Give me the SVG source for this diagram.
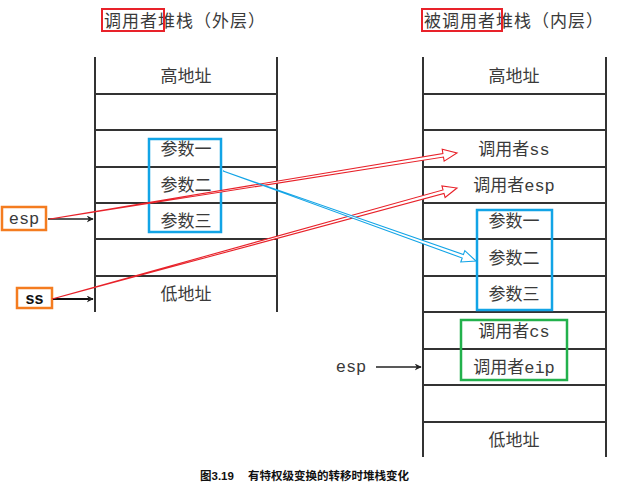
<svg xmlns="http://www.w3.org/2000/svg" width="628" height="492" viewBox="0 0 628 492">
<defs>
<style>
.ln{stroke:#333;stroke-width:2;fill:none}
.t{font-family:"Noto Sans CJK SC","Liberation Serif",serif;font-size:17px;fill:#3a3a3a;text-anchor:middle}
.ti{font-family:"Noto Sans CJK SC","Liberation Serif",serif;font-size:17px;fill:#3a3a3a;letter-spacing:1px}
.mono{font-family:"Liberation Mono","DejaVu Sans Mono",monospace}
.red{stroke:#e8222a;stroke-width:2;fill:none}
.blue{stroke:#12a4e6;stroke-width:2.5;fill:none}
.green{stroke:#22b14c;stroke-width:2.5;fill:none}
.org{stroke:#f47c20;stroke-width:2.5;fill:#fff}
.ptr{stroke:#222;stroke-width:1.5;fill:none}
.cap{font-family:"Liberation Sans","Noto Sans CJK SC",sans-serif;font-size:11.5px;font-weight:bold;fill:#111}
</style>
<marker id="ah" viewBox="0 0 10 10" refX="9" refY="5" markerWidth="7" markerHeight="7" markerUnits="userSpaceOnUse" orient="auto">
<path d="M0,0 L10,5 L0,10 L3,5 z" fill="#222"/>
</marker>
</defs>

<g id="title-left">
<text class="ti" x="104" y="27">调用者堆栈（外层）</text>
<rect class="red" x="102" y="9" width="62" height="22"/>
</g>
<g id="title-right">
<text class="ti" x="424" y="27">被调用者堆栈（内层）</text>
<rect class="red" x="422" y="9" width="80" height="22"/>
</g>

<g id="stack-left">
<line class="ln" x1="95" y1="57" x2="95" y2="312"/>
<line class="ln" x1="277" y1="57" x2="277" y2="312"/>
<line class="ln" x1="95" y1="94" x2="277" y2="94"/>
<line class="ln" x1="95" y1="130" x2="277" y2="130"/>
<line class="ln" x1="95" y1="167" x2="277" y2="167"/>
<line class="ln" x1="95" y1="203" x2="277" y2="203"/>
<line class="ln" x1="95" y1="239" x2="277" y2="239"/>
<line class="ln" x1="95" y1="276" x2="277" y2="276"/>
<text class="t" x="186" y="82">高地址</text>
<text class="t" x="186" y="155">参数一</text>
<text class="t" x="186" y="191">参数二</text>
<text class="t" x="186" y="227">参数三</text>
<text class="t" x="186" y="300">低地址</text>
<rect class="blue" x="149" y="139" width="72" height="93"/>
</g>

<g id="stack-right">
<line class="ln" x1="423" y1="57" x2="423" y2="457"/>
<line class="ln" x1="606" y1="57" x2="606" y2="457"/>
<line class="ln" x1="423" y1="94" x2="606" y2="94"/>
<line class="ln" x1="423" y1="130" x2="606" y2="130"/>
<line class="ln" x1="423" y1="167" x2="606" y2="167"/>
<line class="ln" x1="423" y1="203" x2="606" y2="203"/>
<line class="ln" x1="423" y1="239" x2="606" y2="239"/>
<line class="ln" x1="423" y1="276" x2="606" y2="276"/>
<line class="ln" x1="423" y1="312" x2="606" y2="312"/>
<line class="ln" x1="423" y1="349" x2="606" y2="349"/>
<line class="ln" x1="423" y1="385" x2="606" y2="385"/>
<line class="ln" x1="423" y1="422" x2="606" y2="422"/>
<text class="t" x="514" y="82">高地址</text>
<text class="t" x="514" y="155">调用者<tspan class="mono">ss</tspan></text>
<text class="t" x="514" y="191">调用者<tspan class="mono">esp</tspan></text>
<text class="t" x="514" y="227">参数一</text>
<text class="t" x="514" y="264">参数二</text>
<text class="t" x="514" y="300">参数三</text>
<text class="t" x="514" y="337">调用者<tspan class="mono">cs</tspan></text>
<text class="t" x="514" y="373">调用者<tspan class="mono">eip</tspan></text>
<text class="t" x="514" y="446">低地址</text>
<rect class="blue" x="477" y="210" width="75" height="100"/>
<rect class="green" x="461" y="320" width="106" height="60"/>
</g>

<g id="esp-left">
<rect class="org" x="2" y="207" width="44" height="23"/>
<text class="t mono" x="24" y="224">esp</text>
</g>
<g id="ss-left">
<rect class="org" x="17" y="288" width="35" height="20"/>
<text x="34.5" y="304" font-family="Liberation Sans, Arial, sans-serif" font-size="16" font-weight="bold" fill="#111" text-anchor="middle">ss</text>
</g>
<g id="esp-right">
<text class="t mono" x="351" y="372">esp</text>
</g>

<g id="connectors">
<line class="ptr" x1="48" y1="219" x2="93" y2="219" marker-end="url(#ah)"/>
<line x1="53" y1="299" x2="93" y2="299" stroke="#111" stroke-width="2.2" marker-end="url(#ah)"/>
<line class="ptr" x1="376" y1="367" x2="421" y2="367" marker-end="url(#ah)"/>
<polygon points="50,219 443.47,157.02 444.14,161.16 457,153 442.22,149.32 442.89,153.46" fill="#fff" stroke="#e8222a" stroke-width="1.1" stroke-linejoin="miter"/>
<polygon points="52,299 443.98,193.44 445.09,197.49 457,188 441.91,185.91 443.02,189.96" fill="#fff" stroke="#e8222a" stroke-width="1.1" stroke-linejoin="miter"/>
<polygon points="223,171 462.21,258.01 460.80,261.96 476,261 464.82,250.66 463.41,254.61" fill="#fff" stroke="#12a4e6" stroke-width="1.1" stroke-linejoin="miter"/>
</g>

<g id="caption">
<text class="cap" x="200" y="480">图3.19</text>
<text class="cap" x="248" y="480">有特权级变换的转移时堆栈变化</text>
</g>
</svg>
